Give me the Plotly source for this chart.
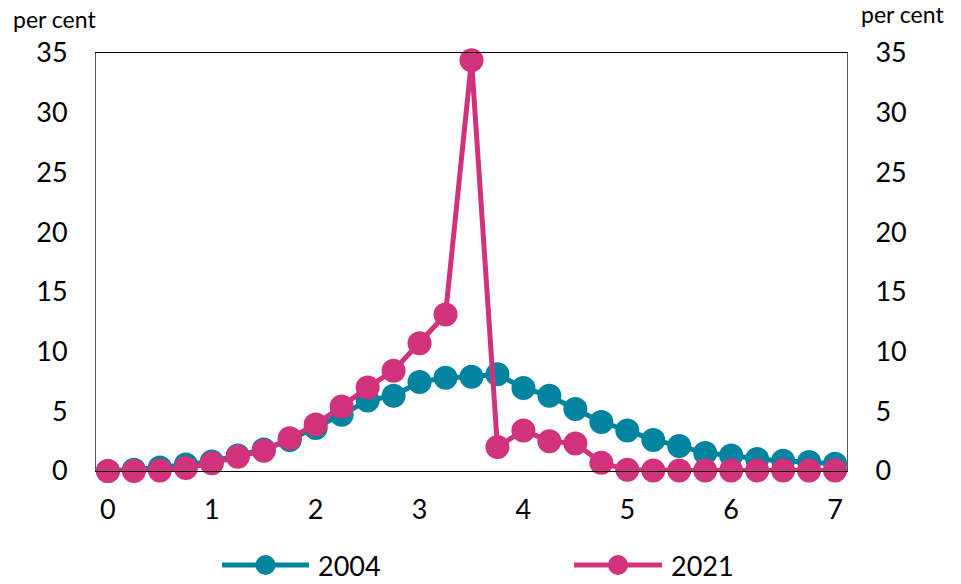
import plotly.graph_objects as go

x_vals = [i * 0.25 for i in range(29)]
y_2004 = [0.0, 0.1, 0.3, 0.55, 0.8, 1.3, 1.8, 2.6, 3.6, 4.7, 5.9, 6.3, 7.45, 7.8, 7.9, 8.1,
          6.95, 6.3, 5.2, 4.1, 3.4, 2.6, 2.1, 1.5, 1.3, 1.0, 0.85, 0.75, 0.6]
y_2021 = [0.0, 0.0, 0.05, 0.25, 0.65, 1.2, 1.7, 2.75, 3.9, 5.4, 7.0, 8.4, 10.7, 13.1, 34.4, 2.0,
          3.4, 2.5, 2.3, 0.7, 0.1, 0.05, 0.05, 0.05, 0.05, 0.05, 0.05, 0.05, 0.05]
series_names = ["2004", "2021"]
y_ticks = [0, 5, 10, 15, 20, 25, 30, 35]
x_ticks = [0, 1, 2, 3, 4, 5, 6, 7]

TEAL = "#00849F"
PINK = "#D2327C"
FONT = "Lato"

fig = go.Figure()
fig.add_trace(go.Scatter(x=x_vals, y=y_2004, name=series_names[0], mode="lines+markers",
                         line=dict(color=TEAL, width=5), marker=dict(color=TEAL, size=24),
                         cliponaxis=False, yaxis="y"))
fig.add_trace(go.Scatter(x=x_vals, y=y_2021, name=series_names[1], mode="lines+markers",
                         line=dict(color=PINK, width=5), marker=dict(color=PINK, size=24),
                         cliponaxis=False, yaxis="y2"))

axis_font = dict(family=FONT, size=27, color="black")
fig.update_layout(
    width=953, height=576,
    margin=dict(l=88, r=114, t=45, b=113),
    paper_bgcolor="white", plot_bgcolor="white",
    showlegend=False,
    font=dict(family=FONT, color="black"),
    xaxis=dict(range=[-0.115, 7.115], tickvals=x_ticks, showgrid=False, zeroline=False,
               showline=True, mirror=True, linecolor="black", linewidth=1,
               ticks="outside", ticklen=15, tickcolor="rgba(0,0,0,0)", tickfont=axis_font),
    yaxis=dict(range=[0, 35], tickvals=y_ticks, showgrid=False, zeroline=False,
               showline=True, linecolor="#555555", linewidth=1, ticks="outside",
               ticklen=22, tickcolor="rgba(0,0,0,0)", tickfont=axis_font),
    yaxis2=dict(range=[0, 35], tickvals=y_ticks, showgrid=False, zeroline=False,
                overlaying="y", side="right", showline=True, linecolor="#555555",
                linewidth=1, ticks="outside", ticklen=22, tickcolor="rgba(0,0,0,0)",
                tickfont=axis_font),
)

# helpers: page pixel -> paper fraction (plot area spans 96..847 x, 53..471 y on the page)
def px_x(p):
    return (p - 96) / (847 - 96)

def px_y(p):
    return (471 - p) / (471 - 53)

# axis unit labels
fig.add_annotation(text="per cent", xref="paper", yref="paper", x=px_x(11), y=px_y(19),
                   xanchor="left", yanchor="middle", showarrow=False,
                   font=dict(family=FONT, size=23, color="black"))
fig.add_annotation(text="per cent", xref="paper", yref="paper", x=px_x(859), y=px_y(14),
                   xanchor="left", yanchor="middle", showarrow=False,
                   font=dict(family=FONT, size=23, color="black"))

# custom legend below chart
legend_items = [(series_names[0], TEAL, 222, 309, 316), (series_names[1], PINK, 574, 662, 669)]
for name, col, x0, x1, tx in legend_items:
    fig.add_shape(type="line", xref="paper", yref="paper", x0=px_x(x0), x1=px_x(x1),
                  y0=px_y(565), y1=px_y(565), line=dict(color=col, width=5))
    cx = (x0 + x1) / 2
    fig.add_shape(type="circle", xref="paper", yref="paper",
                  x0=px_x(cx - 10), x1=px_x(cx + 10), y0=px_y(575), y1=px_y(555),
                  fillcolor=col, line=dict(color=col, width=0))
    fig.add_annotation(text=name, xref="paper", yref="paper", x=px_x(tx), y=px_y(565),
                       xanchor="left", yanchor="middle", showarrow=False,
                       font=dict(family=FONT, size=27, color="black"))

fig.write_html("out.html")
